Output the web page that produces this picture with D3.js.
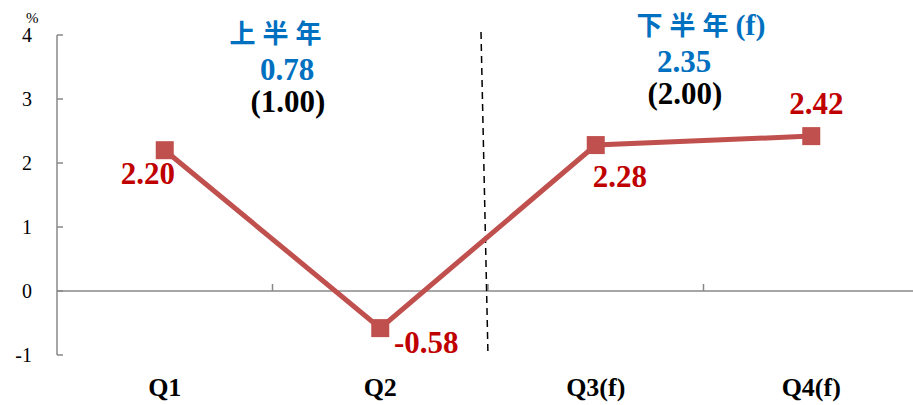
<!DOCTYPE html>
<html>
<head>
<meta charset="utf-8">
<script src="https://cdn.jsdelivr.net/npm/d3@7"></script>
<style>
  body { margin: 0; background: #fff; }
</style>
</head>
<body>
<div id="chart-area"></div>
<script>
var quarters = ["Q1", "Q2", "Q3(f)", "Q4(f)"];
var growth = [2.20, -0.58, 2.28, 2.42];
var growthLabels = ["2.20", "-0.58", "2.28", "2.42"];
var yTicks = [-1, 0, 1, 2, 3, 4];
var halfTitles = ["上半年", "下半年(f)"];
var halfValues = ["0.78", "2.35"];
var halfPrev = ["(1.00)", "(2.00)"];

var serif = "'Times New Roman', 'Liberation Serif', 'DejaVu Serif', serif";
var cjk = "'Noto Sans CJK TC', 'Noto Sans CJK SC', sans-serif";

var svg = d3.select("#chart-area")
    .append("svg")
        .attr("width", 913)
        .attr("height", 405)
        .style("font-family", serif);

var x = d3.scaleBand()
    .domain(quarters)
    .range([57, 919]);

var y = d3.scaleLinear()
    .domain([-1, 4])
    .range([355, 35]);

// y axis line with inner ticks
svg.append("line")
    .attr("x1", 57).attr("x2", 57)
    .attr("y1", y(4)).attr("y2", y(-1))
    .attr("stroke", "#888").attr("stroke-width", 1.5);

svg.selectAll(".ytick")
    .data(yTicks)
    .enter()
    .append("line")
        .attr("x1", 57).attr("x2", 63)
        .attr("y1", d => y(d)).attr("y2", d => y(d))
        .attr("stroke", "#888").attr("stroke-width", 1.5);

svg.selectAll(".ylab")
    .data(yTicks)
    .enter()
    .append("text")
        .attr("x", 32)
        .attr("y", d => y(d) + 7)
        .attr("text-anchor", "end")
        .style("font-family", serif)
        .attr("font-size", 20)
        .text(d => d);

svg.append("text")
    .attr("x", 26).attr("y", 23)
    .style("font-family", serif)
    .attr("font-size", 15)
    .text("%");

// zero line
svg.append("line")
    .attr("x1", 57).attr("x2", 913)
    .attr("y1", y(0)).attr("y2", y(0))
    .attr("stroke", "#888").attr("stroke-width", 1.5);

svg.selectAll(".xtick")
    .data(quarters.slice(1))
    .enter()
    .append("line")
        .attr("x1", d => x(d)).attr("x2", d => x(d))
        .attr("y1", y(0)).attr("y2", y(0) - 7)
        .attr("stroke", "#888").attr("stroke-width", 1.5);

svg.selectAll(".xlab")
    .data(quarters)
    .enter()
    .append("text")
        .attr("x", d => x(d) + x.bandwidth() / 2)
        .attr("y", 396)
        .attr("text-anchor", "middle")
        .style("font-family", serif)
        .attr("font-size", 26)
        .attr("font-weight", "bold")
        .text(d => d);

// dashed divider between halves
svg.append("line")
    .attr("x1", x("Q3(f)") - 7).attr("x2", x("Q3(f)"))
    .attr("y1", 32).attr("y2", y(-1) + 1)
    .attr("stroke", "#000").attr("stroke-width", 1.5)
    .attr("stroke-dasharray", "7,5");

// line
var line = d3.line()
    .x((d, i) => x(quarters[i]) + x.bandwidth() / 2)
    .y(d => y(d));

svg.append("path")
    .datum(growth)
    .attr("d", line)
    .attr("fill", "none")
    .attr("stroke", "#C0504D")
    .attr("stroke-width", 5);

svg.selectAll(".mark")
    .data(growth)
    .enter()
    .append("rect")
        .attr("x", (d, i) => x(quarters[i]) + x.bandwidth() / 2 - 9)
        .attr("y", d => y(d) - 9)
        .attr("width", 18).attr("height", 18)
        .attr("fill", "#C0504D");

// point labels
var labelDx = [-17, 46, 24, 5];
var labelDy = [34, 25, 42, -22];
svg.selectAll(".vlab")
    .data(growthLabels)
    .enter()
    .append("text")
        .attr("x", (d, i) => x(quarters[i]) + x.bandwidth() / 2 + labelDx[i])
        .attr("y", (d, i) => y(growth[i]) + labelDy[i])
        .attr("text-anchor", "middle")
        .style("font-family", serif)
        .attr("font-size", 31)
        .attr("font-weight", "bold")
        .attr("fill", "#C00000")
        .text(d => d);

// half-year annotations
var halfX = [279, 701];
var halfY = [43, 35];
var titles = svg.selectAll(".htitle")
    .data(halfTitles)
    .enter()
    .append("text")
        .attr("x", (d, i) => halfX[i])
        .attr("y", (d, i) => halfY[i])
        .attr("text-anchor", "middle")
        .attr("font-weight", "bold")
        .attr("fill", "#0070C0");

titles.append("tspan")
    .style("font-family", cjk)
    .attr("font-size", 26)
    .attr("letter-spacing", 7)
    .text(d => d.replace("(f)", ""));

titles.append("tspan")
    .style("font-family", serif)
    .attr("font-size", 30)
    .text(d => d.indexOf("(f)") >= 0 ? "(f)" : "");

var valX = [287, 684];
svg.selectAll(".hval")
    .data(halfValues)
    .enter()
    .append("text")
        .attr("x", (d, i) => valX[i])
        .attr("y", (d, i) => halfY[i] + 37)
        .attr("text-anchor", "middle")
        .style("font-family", serif)
        .attr("font-size", 31)
        .attr("font-weight", "bold")
        .attr("fill", "#0070C0")
        .text(d => d);

svg.selectAll(".hprev")
    .data(halfPrev)
    .enter()
    .append("text")
        .attr("x", (d, i) => valX[i] + 1)
        .attr("y", (d, i) => halfY[i] + 69)
        .attr("text-anchor", "middle")
        .style("font-family", serif)
        .attr("font-size", 31)
        .attr("font-weight", "bold")
        .attr("fill", "#000")
        .text(d => d);
</script>
</body>
</html>
